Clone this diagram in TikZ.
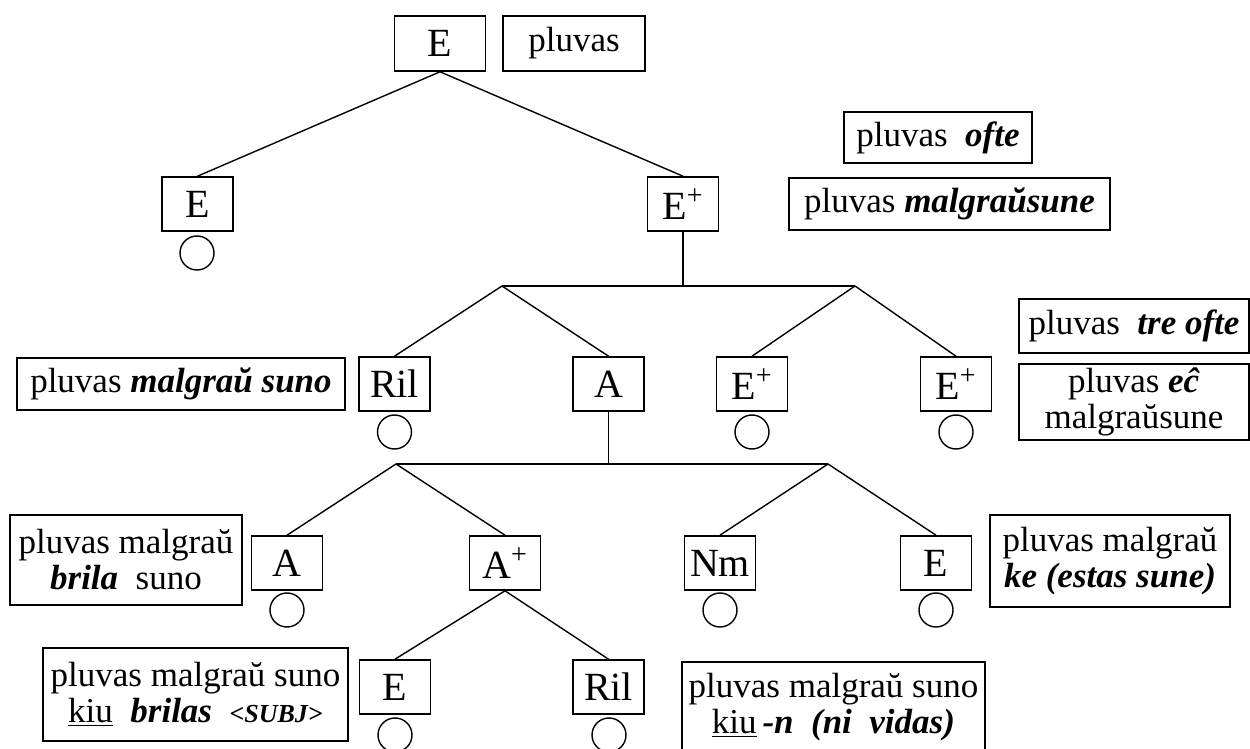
\documentclass[tikz,border=0pt]{standalone}
\usepackage{fontspec}
\setmainfont{Liberation Serif}
\newcommand{\bi}[1]{\textbf{\textit{#1}}}
\newcommand{\plus}{\textsuperscript{+}}
\begin{document}
\begin{tikzpicture}[x=0.5pt,y=-0.5pt,
  cat/.style={draw,line width=0.8pt,minimum width=35.5pt,minimum height=27pt,inner sep=0pt,font=\fontsize{20}{20}\selectfont},
  ann/.style={draw,line width=0.8pt,inner sep=0pt,font=\fontsize{17.5}{18}\selectfont,align=center},
  zero/.style={draw,circle,line width=0.7pt,minimum size=17pt,inner sep=0pt},
  edge/.style={line width=0.7pt}]
\useasboundingbox[fill=white] (0,0) rectangle (1250,749);
% row 1
\node[cat,minimum width=45.5pt,minimum height=27.5pt] (E0) at (440,43.5) {E};
\node[ann,minimum width=71pt,minimum height=27.5pt] (p0) at (574,43.5) {pluvas};
% row 2
\node[cat] (E1) at (197.5,204) {E};
\node[cat] (E1p) at (683,204) {E\plus};
\node[zero] (z1) at (197,253) {};
\node[ann,minimum width=94pt,minimum height=25.5pt] (p1) at (938,137.5) {pluvas\ \ \bi{ofte}};
\node[ann,minimum width=160.5pt,minimum height=26pt] (p2) at (949.5,204) {pluvas \bi{malgraŭsune}};
% junctions row 3
\coordinate (j1) at (502,286);
\coordinate (j2) at (855,286);
\coordinate (k) at (683,286);
% row 3
\node[cat] (R3) at (394.5,384) {Ril};
\node[cat] (A3) at (608.5,384) {A};
\node[cat] (Ep3) at (752,384) {E\plus};
\node[cat] (Eq3) at (956,384) {E\plus};
\node[zero] (z2) at (394.5,432) {};
\node[zero] (z3) at (752,432) {};
\node[zero] (z4) at (956,432) {};
\node[ann,minimum width=115pt,minimum height=27pt] (p3) at (1134,326) {pluvas\ \ \bi{tre ofte}};
\node[ann,minimum width=115pt,minimum height=38pt] (p4) at (1134,402) {pluvas \bi{eĉ}\\malgraŭsune};
\node[ann,minimum width=164pt,minimum height=26pt] (p5) at (181,384) {pluvas \bi{malgraŭ suno}};
% junctions row 4
\coordinate (l4) at (396,464);
\coordinate (r4) at (828,464);
\coordinate (m4) at (608.5,464);
% row 4
\node[cat] (A4) at (287,563) {A};
\node[cat] (Ap4) at (505,563) {A\plus};
\node[cat] (Nm4) at (720,563) {Nm};
\node[cat] (E4) at (936,563) {E};
\node[zero] (z5) at (287,610) {};
\node[zero] (z6) at (720,610) {};
\node[zero] (z7) at (936,610) {};
\node[ann,minimum width=116pt,minimum height=45pt] (p6) at (126,560) {pluvas malgraŭ\\\bi{brila}\ \ suno};
\node[ann,minimum width=120pt,minimum height=46pt] (p7) at (1110,561) {pluvas malgraŭ\\\bi{ke (estas sune)}};
% row 5
\node[cat] (E5) at (395,687) {E};
\node[cat] (R5) at (608.5,687) {Ril};
\node[zero] (z8) at (395,735) {};
\node[zero] (z9) at (609,735) {};
\node[ann,minimum width=152.5pt,minimum height=46.5pt] (p8) at (195.5,694.5) {pluvas malgraŭ suno\\\underline{kiu}\ \ \bi{brilas}\ \ {\bfseries\itshape\fontsize{13}{13}\selectfont <SUBJ>}};
\node[ann,minimum width=151.5pt,minimum height=45pt] (p9) at (833.5,707) {pluvas malgraŭ suno\\\underline{kiu}\,\bi{-n\ \ (ni\ \ vidas)}};
% connectors
\draw[edge] (E0.south) -- (E1.north);
\draw[edge] (E0.south) -- (E1p.north);
\draw[edge] (E1p.south) -- (k);
\draw[edge] (j1) -- (j2);
\draw[edge] (j1) -- (R3.north);
\draw[edge] (j1) -- (A3.north);
\draw[edge] (j2) -- (Ep3.north);
\draw[edge] (j2) -- (Eq3.north);
\draw[edge] (A3.south) -- (m4);
\draw[edge] (l4) -- (r4);
\draw[edge] (l4) -- (A4.north);
\draw[edge] (l4) -- (Ap4.north);
\draw[edge] (r4) -- (Nm4.north);
\draw[edge] (r4) -- (E4.north);
\draw[edge] (Ap4.south) -- (E5.north);
\draw[edge] (Ap4.south) -- (R5.north);
\end{tikzpicture}
\end{document}
